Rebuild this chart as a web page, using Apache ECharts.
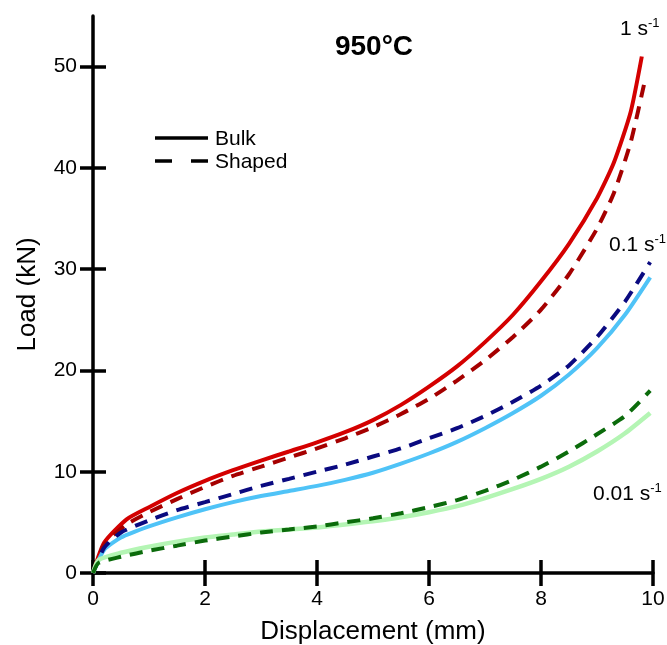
<!DOCTYPE html>
<html><head><meta charset="utf-8">
<script src="https://cdn.jsdelivr.net/npm/echarts@6/dist/echarts.min.js"></script>
<style>html,body{margin:0;padding:0;background:#fff}#c{width:667px;height:645px}</style>
</head><body><div id="c"></div>
<script>
// Data (Displacement mm -> Load kN)
const xTicks = [0, 2, 4, 6, 8, 10];
const yTicks = [0, 10, 20, 30, 40, 50];

const x1Bulk = [0,0.2,0.6,1,1.5,2,2.5,3,3.5,4,4.5,5,5.5,6,6.5,7,7.5,8,8.5,9,9.3,9.6,9.8];
const y1Bulk = [0,3.0,5.3,6.5,7.9,9.1,10.15,11.1,12.0,12.9,13.9,15.1,16.6,18.4,20.4,22.8,25.5,28.8,32.5,37,40.5,45.5,51];
const x1Shaped = [0,0.2,0.6,1,1.5,2,2.5,3,3.5,4,4.5,5,5.5,6,6.5,7,7.5,8,8.5,9,9.3,9.6,9.87];
const y1Shaped = [0,2.8,4.8,6.0,7.3,8.5,9.6,10.5,11.4,12.3,13.3,14.4,15.7,17.2,19.0,21.0,23.3,26.0,29.5,34,37.5,42.5,49];

const x01 = [0,0.2,0.5,1,1.5,2,2.5,3,3.5,4,4.5,5,5.5,6,6.5,7,7.5,8,8.5,9,9.5,9.95];
const y01Bulk = [0,2.3,3.5,4.6,5.5,6.3,7.0,7.6,8.1,8.6,9.2,9.9,10.8,11.8,12.95,14.3,15.8,17.5,19.6,22.2,25.5,29.2];
const y01Shaped = [0,2.5,4.0,5.2,6.2,7.0,7.8,8.6,9.3,10.0,10.7,11.5,12.3,13.3,14.3,15.5,16.9,18.5,20.5,23.3,26.8,30.7];

const x001 = [0,0.1,0.5,1,1.5,2,2.5,3,3.5,4,4.5,5,5.5,6,6.5,7,7.5,8,8.5,9,9.5,9.95];
const y001Bulk = [0,1.3,2.0,2.6,3.1,3.5,3.8,4.1,4.3,4.5,4.8,5.1,5.5,6.0,6.6,7.4,8.3,9.3,10.5,12.0,13.8,15.8];
const y001Shaped = [0,1.0,1.6,2.2,2.7,3.2,3.6,4.0,4.3,4.6,5.0,5.4,5.9,6.5,7.2,8.1,9.2,10.5,12.0,13.7,15.5,18.0];

const zip = (xs, ys) => xs.map((x, i) => [x, ys[i]]);
const FONT = 'Liberation Sans, Arial, sans-serif';

const chart = echarts.init(document.getElementById('c'), null, {renderer: 'canvas'});

function mkSeries(name, xs, ys, color, dashed, width) {
  return {
    name, type: 'line', data: zip(xs, ys), showSymbol: false, symbol: 'none',
    smooth: 0.2, xAxisIndex: 0, yAxisIndex: 0,
    lineStyle: {color, width: width || 4, type: dashed ? [13, 9] : 'solid', cap: 'butt'},
    silent: true
  };
}

const TICK = {color: '#000', width: 3.5};
const axisBase = {
  axisLine: {show: true, lineStyle: {color: '#000', width: 3.5}},
  splitLine: {show: false}
};

chart.setOption({
  animation: false,
  grid: {left: 93, right: 14, top: 16, bottom: 72, containLabel: false, outerBoundsMode: 'none'},
  xAxis: [
    Object.assign({}, axisBase, {
      type: 'value', min: 0, max: 10, interval: 2,
      name: 'Displacement (mm)', nameLocation: 'middle', nameGap: 46,
      nameTextStyle: {fontFamily: FONT, fontSize: 26, color: '#000'},
      axisTick: {show: true, length: 13, inside: false, lineStyle: TICK, customValues: xTicks},
      axisLabel: {fontFamily: FONT, fontSize: 21, color: '#000', margin: 16, customValues: xTicks}
    }),
    Object.assign({}, axisBase, {
      type: 'value', min: 0, max: 10, interval: 2, position: 'bottom',
      axisLine: {show: false},
      axisTick: {show: true, length: 13, inside: true, lineStyle: TICK, customValues: xTicks},
      axisLabel: {show: false}
    })
  ],
  yAxis: [
    Object.assign({}, axisBase, {
      type: 'value', min: 0, max: 55, interval: 10,
      name: 'Load (kN)', nameLocation: 'middle', nameGap: 52,
      nameTextStyle: {fontFamily: FONT, fontSize: 26, color: '#000'},
      axisTick: {show: true, length: 13, inside: false, lineStyle: TICK, customValues: yTicks},
      axisLabel: {fontFamily: FONT, fontSize: 21, color: '#000', margin: 16, customValues: yTicks}
    }),
    Object.assign({}, axisBase, {
      type: 'value', min: 0, max: 55, interval: 10, position: 'left',
      axisLine: {show: false},
      axisTick: {show: true, length: 13, inside: true, lineStyle: TICK, customValues: yTicks},
      axisLabel: {show: false}
    })
  ],
  series: [
    mkSeries('1 s-1 Bulk', x1Bulk, y1Bulk, '#d40000', false),
    mkSeries('1 s-1 Shaped', x1Shaped, y1Shaped, '#a50000', true),
    mkSeries('0.1 s-1 Bulk', x01, y01Bulk, '#4fc3f7', false),
    mkSeries('0.1 s-1 Shaped', x01, y01Shaped, '#0a0a80', true),
    mkSeries('0.01 s-1 Bulk', x001, y001Bulk, '#b4f5b4', false, 4.5),
    mkSeries('0.01 s-1 Shaped', x001, y001Shaped, '#0b6b0b', true)
  ],
  graphic: [
    {type: 'text', x: 374, y: 47, style: {text: '950°C', font: 'bold 28px ' + FONT, fill: '#000', textAlign: 'center', textVerticalAlign: 'middle'}},
    {type: 'line', shape: {x1: 155, y1: 138, x2: 208, y2: 138}, style: {stroke: '#000', lineWidth: 3.5}},
    {type: 'line', shape: {x1: 155, y1: 161, x2: 208, y2: 161}, style: {stroke: '#000', lineWidth: 3.5, lineDash: [17, 19]}},
    {type: 'text', x: 215, y: 139, style: {text: 'Bulk', font: '21px ' + FONT, fill: '#000', textVerticalAlign: 'middle'}},
    {type: 'text', x: 215, y: 162, style: {text: 'Shaped', font: '21px ' + FONT, fill: '#000', textVerticalAlign: 'middle'}},
    {type: 'text', x: 620, y: 29, style: {text: '1 s{sup|-1}', font: '21px ' + FONT, fill: '#000', textVerticalAlign: 'middle',
      rich: {sup: {fontSize: 13, fontFamily: FONT, padding: [0, 0, 12, 0]}}}},
    {type: 'text', x: 609, y: 245, style: {text: '0.1 s{sup|-1}', font: '21px ' + FONT, fill: '#000', textVerticalAlign: 'middle',
      rich: {sup: {fontSize: 13, fontFamily: FONT, padding: [0, 0, 12, 0]}}}},
    {type: 'text', x: 593, y: 494, style: {text: '0.01 s{sup|-1}', font: '21px ' + FONT, fill: '#000', textVerticalAlign: 'middle',
      rich: {sup: {fontSize: 13, fontFamily: FONT, padding: [0, 0, 12, 0]}}}}
  ]
});
</script></body></html>
